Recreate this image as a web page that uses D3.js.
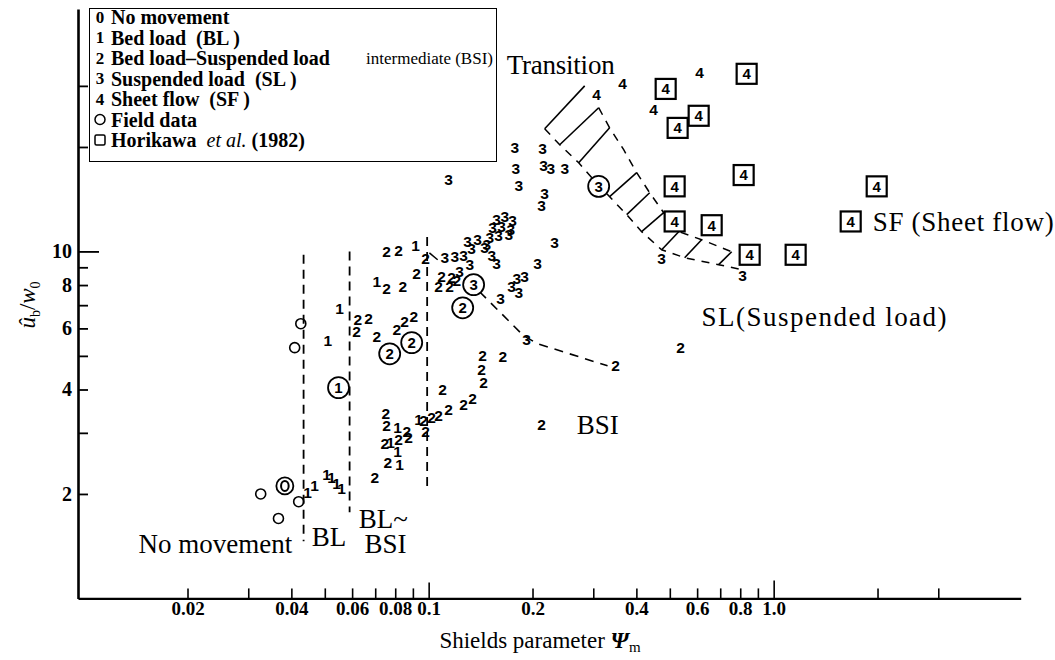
<!DOCTYPE html>
<html><head><meta charset="utf-8">
<script src="https://cdn.jsdelivr.net/npm/d3@7/dist/d3.min.js"></script>
<style>
html,body{margin:0;padding:0;background:#fff;}
svg{display:block;}
</style></head><body>
<svg id="chart" width="1055" height="660"></svg>
<script>
// ---------------- data ----------------
const xTickValues = [0.02,0.03,0.04,0.05,0.06,0.07,0.08,0.09,0.1,0.2,0.3,0.4,0.5,0.6,0.7,0.8,0.9,1.0,2,3];
const xTickLabels = {0.02:"0.02",0.04:"0.04",0.06:"0.06",0.08:"0.08",0.1:"0.1",0.2:"0.2",0.4:"0.4",0.6:"0.6",0.8:"0.8",1.0:"1.0"};
const yTickValues = [2,3,4,5,6,7,8,9,10,20,30];
const yTickLabels = {2:"2",4:"4",6:"6",8:"8",10:"10"};

const class1 = [[0.0510,5.53],[0.0552,6.84],[0.0707,8.18],[0.0917,10.4],[0.0813,3.10],[0.0935,3.27],[0.0776,2.81],[0.0813,2.65],[0.0824,2.44],[0.0446,2.02],[0.0467,2.11],[0.0506,2.27],[0.0523,2.23],[0.0541,2.15],[0.0559,2.08]];
const class2 = [[0.0623,6.36],[0.0670,6.40],[0.0618,5.87],[0.0707,5.68],[0.0808,5.95],[0.0852,6.27],[0.0905,6.48],
  [0.0755,9.98],[0.0818,10.1],[0.0980,9.53],[0.0923,8.62],[0.0755,7.81],[0.0841,7.91],
  [0.1098,3.99],[0.0751,3.41],[0.0755,3.15],[0.0864,3.02],[0.0967,3.25],[0.102,3.32],[0.1069,3.36],[0.1143,3.50],[0.0980,3.02],[0.0746,2.79],[0.0818,2.87],[0.0875,2.92],[0.0761,2.46],[0.0698,2.23],
  [0.109,8.46],[0.1166,8.40],[0.1069,7.91],[0.115,7.91],[0.1206,8.23],
  [0.1434,5.00],[0.1639,4.97],[0.1424,4.56],[0.1443,4.18],[0.1263,3.62],[0.1341,3.76],[0.2126,3.17],[0.3483,4.68],[0.5376,5.28]];
const class3 = [[0.1143,16.1],[0.1776,20.0],[0.2140,19.8],[0.1788,17.4],[0.2154,17.7],[0.2258,17.3],[0.2479,17.4],[0.1824,15.5],[0.2169,14.7],[0.2126,13.6],[0.2318,10.6],[0.2070,9.22],[0.1898,8.46],[0.1800,8.34],[0.1740,7.91],[0.1824,7.60],[0.1617,7.31],[0.1923,5.57],[0.4736,9.53],[0.8131,8.51],
  [0.1574,12.4],[0.1661,12.6],[0.1752,12.3],[0.1533,11.7],[0.1628,11.8],[0.1729,11.6],[0.1503,11.0],[0.1595,11.1],[0.1706,11.2],[0.1297,10.7],[0.1387,10.8],[0.1473,10.5],[0.1332,10.2],[0.1453,10.25],[0.1113,9.59],[0.1190,9.65],[0.1263,9.72],[0.1523,9.72],[0.1315,9.16],[0.1574,9.22],[0.1230,8.74]];
const class4 = [[0.3069,28.3],[0.3650,30.4],[0.6103,32.7],[0.4489,25.6]];
const horikawa4 = [[0.4864,29.4],[0.8350,32.5],[0.6062,24.6],[0.5268,22.7],[0.8185,16.6],[0.5164,15.4],[0.5164,12.2],[0.6612,11.9],[0.8519,9.78],[1.158,9.78],[1.989,15.4],[1.672,12.2]];
const fieldCircles = [[0.0426,6.19],[0.0409,5.28],[0.0326,2.00],[0.0420,1.90],[0.0367,1.70]];
const fieldCircled = [[0.0383,2.11,"0"],[0.0548,4.05,"1"],[0.0771,5.07,"2"],[0.0893,5.46,"2"],[0.1255,6.88,"2"],[0.1350,8.02,"3"],[0.311,15.4,"3"]];

// boundaries
const verticalBounds = [[0.0434,9.78,1.46],[0.0590,10.0,1.77],[0.0990,11.0,2.03]];
const bsiSlShort = [[0.1005,9.90],[0.1062,9.46]];
const bsiSlBoundary = [[0.1405,7.65],[0.1886,5.71],[0.207,5.42],[0.33,4.68]];
const transUpper = [[0.2833,30.0],[0.311,25.95],[0.3346,22.72],[0.3675,19.64],[0.4009,16.86],[0.4371,14.76],[0.48,12.93],[0.5306,11.40],[0.6183,10.81],[0.7555,9.98]];
const transLower = [[0.2169,22.57],[0.2398,20.30],[0.2722,18.01],[0.3008,16.09],[0.3346,14.38],[0.375,12.76],[0.4143,11.40],[0.4736,10.11],[0.5521,9.59],[0.6927,9.16],[0.8076,8.86]];
const hatchIndex = [0,1,2,4,5,6,7,8,9];

const regionLabels = [["Transition",0.1683,32.5],["SF (Sheet flow)",1.936,11.47],["SL(Suspended load)",0.618,6.11],["BSI",0.2685,2.98],["No movement",0.01443,1.354],["BL",0.0458,1.418],["BL~",0.0627,1.598],["BSI",0.0652,1.354]];

const legendSymbols = ["0","1","2","3","4","circle","square"];
const legendLabels = ["No movement","Bed load\u2002(BL\u2009)","Bed load\u2013Suspended load","Suspended load\u2002(SL\u2009)","Sheet flow\u2002(SF\u2009)","Field data","Horikawa"];

// ---------------- drawing ----------------
const svg = d3.select("#chart");
const x = d3.scaleLog().domain([0.00963, 5.2]).range([78, 1020.7]);
const y = d3.scaleLog().domain([1, 50]).range([598.4, 8.9]);
const serif = "'Liberation Serif','Times New Roman',serif";
const sans = "'Liberation Sans',Arial,sans-serif";

// axes
const xAxis = d3.axisBottom(x).tickValues(xTickValues).tickSizeInner(-10).tickSizeOuter(0).tickPadding(3)
  .tickFormat(d => xTickLabels[d] || "");
const gx = svg.append("g").attr("transform", `translate(0,${y(1)})`).call(xAxis);
gx.select(".domain").attr("stroke-width", 2.2);
gx.selectAll(".tick line").attr("stroke-width", 1.6).attr("y2", d => d === 0.1 ? -16 : d === 1.0 ? -18 : -10);
gx.selectAll(".tick text").attr("font-family", serif).attr("font-weight", "bold").attr("font-size", 19).attr("fill", "#000");

const yAxis = d3.axisLeft(y).tickValues(yTickValues).tickSizeInner(-10).tickSizeOuter(0).tickPadding(6)
  .tickFormat(d => yTickLabels[d] || "");
const gy = svg.append("g").attr("transform", `translate(${x.range()[0]},0)`).call(yAxis);
gy.select(".domain").attr("stroke-width", 2.6);
gy.selectAll(".tick line").attr("stroke-width", 1.8).attr("x2", d => d === 10 ? 21 : 10);
gy.selectAll(".tick text").attr("font-family", serif).attr("font-weight", "bold").attr("font-size", 20).attr("fill", "#000");

// axis titles
const xt = svg.append("text").attr("x", 540).attr("y", 648).attr("text-anchor", "middle")
  .attr("font-family", serif).attr("font-size", 23).attr("fill", "#000");
xt.append("tspan").text("Shields parameter ");
xt.append("tspan").attr("font-style", "italic").attr("font-weight", "bold").text("\u03A8");
xt.append("tspan").attr("font-size", 15).attr("dy", 4).text("m");

const yt = svg.append("text").attr("transform", "translate(35,305) rotate(-90)").attr("text-anchor", "middle")
  .attr("font-family", serif).attr("font-size", 23).attr("fill", "#000");
yt.append("tspan").attr("font-style", "italic").text("\u00FB");
yt.append("tspan").attr("font-size", 14).attr("dy", 5).text("b");
yt.append("tspan").attr("dy", -5).text("/");
yt.append("tspan").attr("font-style", "italic").text("w");
yt.append("tspan").attr("font-size", 14).attr("dy", 5).text("0");

// dashed region boundaries
const line = d3.line().x(d => x(d[0])).y(d => y(d[1]));
svg.append("g").selectAll("line").data(verticalBounds).join("line")
  .attr("x1", d => x(d[0])).attr("x2", d => x(d[0])).attr("y1", d => y(d[1])).attr("y2", d => y(d[2]))
  .attr("stroke", "#000").attr("stroke-width", 1.8).attr("stroke-dasharray", "9,6");
svg.append("path").attr("d", line(bsiSlShort)).attr("fill", "none").attr("stroke", "#000").attr("stroke-width", 1.5);
svg.append("path").attr("d", line(bsiSlBoundary)).attr("fill", "none").attr("stroke", "#000").attr("stroke-width", 1.6).attr("stroke-dasharray", "9,7");
svg.append("path").attr("d", line(transUpper.slice(1))).attr("fill", "none").attr("stroke", "#000").attr("stroke-width", 1.5).attr("stroke-dasharray", "8,7");
svg.append("path").attr("d", line(transLower)).attr("fill", "none").attr("stroke", "#000").attr("stroke-width", 1.5).attr("stroke-dasharray", "8,7");
svg.append("g").selectAll("line").data(hatchIndex).join("line")
  .attr("x1", i => x(transUpper[i][0])).attr("y1", i => y(transUpper[i][1]))
  .attr("x2", i => x(transLower[i][0])).attr("y2", i => y(transLower[i][1]))
  .attr("stroke", "#000").attr("stroke-width", 1.6);

// numeral markers
function numerals(data, ch) {
  svg.append("g").selectAll("text").data(data).join("text")
    .attr("x", d => x(d[0])).attr("y", d => y(d[1])).attr("dy", "0.36em")
    .attr("text-anchor", "middle").attr("font-family", sans).attr("font-weight", "bold")
    .attr("font-size", 15.5).attr("fill", "#000").text(ch);
}
numerals(class1, "1");
numerals(class2, "2");
numerals(class3, "3");
numerals(class4, "4");

// Horikawa boxed 4
const hb = svg.append("g").selectAll("g").data(horikawa4).join("g")
  .attr("transform", d => `translate(${x(d[0])},${y(d[1])})`);
hb.append("rect").attr("x", -10).attr("y", -10).attr("width", 20).attr("height", 20)
  .attr("fill", "#fff").attr("stroke", "#000").attr("stroke-width", 2.2);
hb.append("text").attr("dy", "0.36em").attr("text-anchor", "middle").attr("font-family", sans)
  .attr("font-weight", "bold").attr("font-size", 15).text("4");

// field circles
svg.append("g").selectAll("circle").data(fieldCircles).join("circle")
  .attr("cx", d => x(d[0])).attr("cy", d => y(d[1])).attr("r", 5)
  .attr("fill", "none").attr("stroke", "#000").attr("stroke-width", 1.6);
const fc = svg.append("g").selectAll("g").data(fieldCircled).join("g")
  .attr("transform", d => `translate(${x(d[0])},${y(d[1])})`);
fc.append("circle").attr("r", d => d[2] === "0" ? 8.5 : 10.5).attr("fill", "#fff").attr("stroke", "#000").attr("stroke-width", 1.8);
fc.filter(d => d[2] === "0").append("ellipse").attr("rx", 3.8).attr("ry", 5).attr("fill", "none").attr("stroke", "#000").attr("stroke-width", 2);
fc.filter(d => d[2] !== "0").append("text").attr("dy", "0.36em").attr("text-anchor", "middle")
  .attr("font-family", sans).attr("font-weight", "bold").attr("font-size", 15).text(d => d[2]);

// region labels
const labelLength = {"Transition":108, "SF (Sheet flow)":181, "SL(Suspended load)":245};
svg.append("g").selectAll("text").data(regionLabels).join("text")
  .attr("x", d => x(d[1])).attr("y", d => y(d[2])).attr("font-family", serif).attr("font-size", 27)
  .attr("fill", "#000")
  .each(function(d) { if (labelLength[d[0]]) d3.select(this).attr("textLength", labelLength[d[0]]).attr("lengthAdjust", "spacing"); })
  .text(d => d[0]);

// legend
const lg = svg.append("g");
lg.append("rect").attr("x", 89.5).attr("y", 8.5).attr("width", 407).attr("height", 153)
  .attr("fill", "#fff").attr("stroke", "#000").attr("stroke-width", 1);
const rowY = i => 17 + i * 20.5;
legendSymbols.forEach((s, i) => {
  const cy = rowY(i);
  if (s === "circle") {
    lg.append("circle").attr("cx", 100).attr("cy", cy).attr("r", 5).attr("fill", "none").attr("stroke", "#000").attr("stroke-width", 1.5);
  } else if (s === "square") {
    lg.append("rect").attr("x", 95).attr("y", cy - 5).attr("width", 10).attr("height", 10).attr("rx", 1.5).attr("fill", "none").attr("stroke", "#000").attr("stroke-width", 1.5);
  } else {
    lg.append("text").attr("x", 100).attr("y", cy).attr("dy", "0.35em").attr("text-anchor", "middle")
      .attr("font-family", serif).attr("font-weight", "bold").attr("font-size", 17).text(s);
  }
  const t = lg.append("text").attr("x", 111).attr("y", cy).attr("dy", "0.35em")
    .attr("font-family", serif).attr("font-weight", "bold").attr("font-size", 20);
  t.append("tspan").text(legendLabels[i]);
  if (i === 2) {
    lg.append("text").attr("x", 493).attr("y", cy).attr("dy", "0.35em").attr("text-anchor", "end")
      .attr("font-family", serif).attr("font-size", 17).text("intermediate (BSI)");
  }
  if (i === 6) {
    t.append("tspan").attr("font-style", "italic").attr("font-weight", "normal").attr("dx", 10).text("et al.");
    t.append("tspan").attr("dx", 5).text("(1982)");
  }
});
</script>
</body></html>
